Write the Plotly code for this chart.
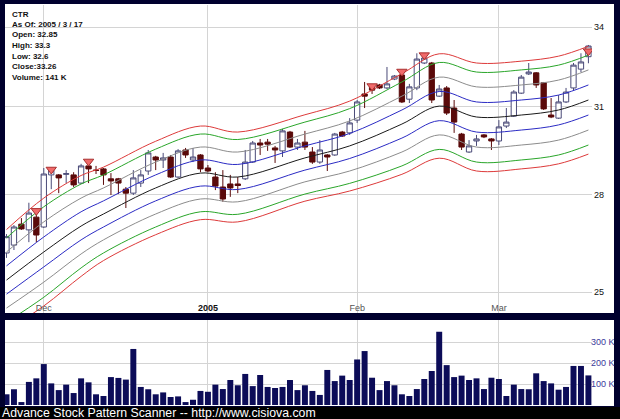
import plotly.graph_objects as go
import pandas as pd

# ---------------- data ----------------
holidays = ["2004-11-25", "2004-12-24", "2005-01-17", "2005-02-21"]
dates = [d.strftime("%Y-%m-%d") for d in pd.bdate_range("2004-11-23", "2005-03-17")
         if d.strftime("%Y-%m-%d") not in holidays]

opens = [26.16, 26.40, 27.05, 26.87, 27.27, 26.96, 28.64, 28.64, 28.66, 28.64,
         28.37, 28.94, 28.80, 28.84, 28.51, 28.51, 28.17, 28.04, 28.37, 28.77,
         29.24, 29.14, 29.24, 28.57, 29.48, 29.14, 29.31, 28.87, 28.57, 28.24,
         28.34, 28.34, 28.51, 29.07, 29.72, 29.75, 29.55, 29.45, 30.10, 29.58,
         29.75, 29.41, 29.07, 29.31, 29.31, 30.10, 30.07, 30.52, 31.46, 31.72,
         31.79, 31.68, 32.01, 32.16, 31.27, 31.68, 32.61, 32.61, 31.38, 31.68,
         30.95, 30.03, 29.41, 29.79, 30.00, 29.86, 29.79, 30.31, 30.66, 31.49,
         32.20, 32.24, 31.87, 30.70, 30.59, 31.17, 31.68, 32.38, 32.85]
highs = [26.74, 27.02, 27.24, 27.73, 27.40, 28.87, 28.87, 28.67, 28.80, 28.73,
         29.01, 29.07, 28.94, 28.87, 28.70, 28.54, 28.24, 28.80, 28.80, 29.48,
         29.28, 29.38, 29.31, 29.51, 29.55, 29.55, 29.34, 28.97, 28.73, 28.80,
         28.64, 28.57, 29.48, 29.79, 29.86, 29.86, 29.62, 30.21, 30.14, 29.86,
         30.14, 29.58, 29.82, 29.34, 30.07, 30.14, 30.59, 31.24, 31.90, 31.79,
         31.83, 32.46, 32.16, 32.27, 31.83, 32.98, 32.91, 32.65, 31.79, 31.75,
         31.24, 30.07, 29.82, 30.00, 30.03, 29.89, 30.52, 30.95, 31.60, 32.16,
         32.61, 32.27, 31.90, 31.31, 31.42, 31.68, 32.61, 32.98, 33.30]
lows = [26.01, 26.25, 26.87, 26.49, 26.49, 26.93, 28.17, 28.04, 28.37, 28.24,
        28.34, 28.37, 28.67, 28.31, 27.98, 28.01, 27.56, 27.98, 28.24, 28.64,
        28.80, 28.87, 28.54, 28.54, 29.21, 29.07, 28.73, 28.73, 28.14, 27.76,
        27.92, 28.04, 28.47, 29.04, 29.31, 29.45, 29.04, 29.24, 29.55, 29.48,
        29.48, 29.01, 29.01, 28.77, 29.28, 29.93, 30.00, 30.42, 30.95, 31.46,
        31.64, 31.64, 31.97, 31.13, 31.13, 31.60, 32.57, 31.13, 31.35, 30.70,
        30.07, 29.48, 29.38, 29.62, 29.89, 29.48, 29.65, 30.24, 30.63, 31.46,
        32.16, 31.68, 30.88, 30.59, 30.56, 31.13, 31.60, 32.27, 32.60]
closes = [26.66, 26.96, 26.90, 27.40, 26.71, 28.67, 28.80, 28.54, 28.68, 28.31,
          28.94, 28.84, 28.79, 28.64, 28.44, 28.37, 28.04, 28.54, 28.64, 29.38,
          29.14, 29.21, 28.57, 29.45, 29.31, 29.24, 28.84, 28.77, 28.27, 27.85,
          28.21, 28.29, 29.07, 29.72, 29.65, 29.68, 29.48, 30.14, 29.58, 29.72,
          29.58, 29.07, 29.48, 29.24, 30.03, 29.96, 30.42, 31.17, 31.38, 31.60,
          31.68, 31.83, 32.12, 31.17, 31.72, 32.76, 32.80, 31.24, 31.64, 30.77,
          30.45, 29.58, 29.62, 29.86, 29.93, 29.79, 30.28, 30.45, 31.53, 32.08,
          32.27, 31.79, 30.92, 30.63, 31.17, 31.53, 32.53, 32.65, 33.26]
volume_k = [51, 75, 14, 110, 127, 195, 103, 71, 97, 57,
            127, 108, 51, 43, 133, 129, 121, 267, 86, 75,
            51, 60, 38, 41, 14, 25, 67, 63, 97, 76,
            119, 94, 148, 90, 143, 86, 81, 86, 119, 71,
            94, 67, 48, 167, 114, 140, 119, 217, 257, 130,
            71, 114, 94, 51, 43, 76, 124, 162, 349, 190,
            133, 140, 119, 127, 76, 130, 124, 43, 97, 76,
            75, 151, 114, 103, 73, 86, 186, 186, 141]

# band lines read at these trading-day indices
band_idx = [0, 5, 10, 13, 20, 26, 31, 40, 46, 53, 58, 63, 69, 74, 78]
red_top = [26.88, 27.88, 28.62, 28.90, 29.78, 30.31, 30.10, 30.71, 31.20, 32.21, 32.96, 32.61, 32.68, 32.87, 33.25]
green_top = [26.62, 27.60, 28.34, 28.64, 29.51, 30.03, 29.84, 30.45, 30.93, 31.90, 32.63, 32.27, 32.35, 32.53, 32.91]
gray_top = [26.19, 27.12, 27.88, 28.21, 29.07, 29.58, 29.41, 30.03, 30.49, 31.38, 32.08, 31.72, 31.79, 31.97, 32.35]
blue_top = [25.77, 26.65, 27.44, 27.79, 28.64, 29.14, 28.99, 29.62, 30.05, 30.88, 31.55, 31.17, 31.24, 31.42, 31.79]
mid_line = [25.35, 26.19, 26.99, 27.37, 28.21, 28.70, 28.57, 29.21, 29.62, 30.38, 31.02, 30.63, 30.70, 30.88, 31.24]
blue_low = [24.94, 25.74, 26.56, 26.96, 27.79, 28.27, 28.16, 28.80, 29.19, 29.89, 30.50, 30.10, 30.17, 30.35, 30.70]
gray_low = [24.54, 25.29, 26.13, 26.56, 27.37, 27.85, 27.76, 28.41, 28.77, 29.41, 30.00, 29.58, 29.65, 29.82, 30.17]
green_low = [24.14, 24.85, 25.71, 26.16, 26.96, 27.44, 27.36, 28.01, 28.36, 28.94, 29.50, 29.07, 29.14, 29.31, 29.65]
red_low = [23.91, 24.60, 25.46, 25.93, 26.72, 27.19, 27.12, 27.78, 28.11, 28.66, 29.20, 28.77, 28.84, 29.01, 29.34]

signal_idx = [4, 6, 11, 49, 53, 56, 78]
signal_price = [27.47, 28.82, 29.09, 31.75, 32.29, 32.91, 33.06]

tick_idx = [5, 27, 47, 66]
tick_text = ["<span style='color:#555555'>Dec</span>", "<b>2005</b>",
             "<span style='color:#555555'>Feb</span>", "<span style='color:#555555'>Mar</span>"]
price_ticks = [25, 28, 31, 34]
vol_ticks_k = [100, 200, 300]

info_lines = ["CTR", "As Of: 2005 / 3 / 17", "Open: 32.85", "High: 33.3",
              "Low: 32.6", "Close:33.26", "Volume: 141 K"]
footer = "Advance Stock Pattern Scanner -- http://www.cisiova.com"

# ---------------- figure ----------------
W, H = 620, 419
FONT = "Liberation Sans, Arial, sans-serif"

fig = go.Figure()

band_x = [dates[i] for i in band_idx]
bands = [(red_top, "#dd3a3a"), (green_top, "#2aa62a"), (gray_top, "#8c8c8c"),
         (blue_top, "#2b2bc4"), (mid_line, "#1a1a1a"), (blue_low, "#2b2bc4"),
         (gray_low, "#8c8c8c"), (green_low, "#2aa62a"), (red_low, "#dd3a3a")]
for vals, col in bands:
    fig.add_trace(go.Scatter(x=band_x, y=vals, mode="lines",
                             line=dict(color=col, width=1, shape="spline", smoothing=1.0),
                             xaxis="x", yaxis="y", hoverinfo="skip"))

fig.add_trace(go.Candlestick(
    x=dates, open=opens, high=highs, low=lows, close=closes,
    increasing=dict(line=dict(color="#4a4a78", width=1), fillcolor="#ffffff"),
    decreasing=dict(line=dict(color="#5a0a0a", width=1), fillcolor="#5a0a0a"),
    whiskerwidth=0, xaxis="x", yaxis="y"))

fig.add_trace(go.Scatter(
    x=[dates[i] for i in signal_idx], y=signal_price, mode="markers",
    marker=dict(symbol="triangle-down", size=9, color="#f06a6a",
                line=dict(color="#a83030", width=1)),
    xaxis="x", yaxis="y", hoverinfo="skip"))

fig.add_trace(go.Bar(x=dates, y=[v * 1000 for v in volume_k], marker_color="#0c0c58",
                     marker_line_width=0, width=0.8, xaxis="x2", yaxis="y2"))

xdom = [5 / W, 592 / W]
shapes = [
    dict(type="rect", xref="paper", yref="paper", x0=5 / W, x1=614 / W,
         y0=(H - 313) / H, y1=(H - 4) / H, fillcolor="white", line_width=0, layer="below"),
    dict(type="rect", xref="paper", yref="paper", x0=5 / W, x1=614 / W,
         y0=(H - 406) / H, y1=(H - 320) / H, fillcolor="white", line_width=0, layer="below"),
    dict(type="rect", xref="paper", yref="paper", x0=0, x1=1,
         y0=0, y1=(H - 407) / H, fillcolor="black", line_width=0, layer="below"),
]

annotations = []
for k, t in enumerate(info_lines):
    yc = 14 + k * 10.5
    annotations.append(dict(text="<b>%s</b>" % t, xref="paper", yref="paper",
                            x=10 / W, y=(H - yc) / H, xanchor="left", yanchor="middle",
                            showarrow=False, font=dict(family=FONT, size=8, color="#111111")))
annotations.append(dict(text=footer, xref="paper", yref="paper", x=1 / W, y=(H - 413) / H,
                        xanchor="left", yanchor="middle", showarrow=False, borderpad=0,
                        font=dict(family=FONT, size=12.3, color="white")))

cat_ax = dict(type="category", categoryorder="array", categoryarray=dates,
              domain=xdom, range=[-0.2, 78.48], showgrid=True, gridcolor="#d4d4d4",
              gridwidth=1, tickvals=[dates[i] for i in tick_idx], ticks="",
              showline=False, zeroline=False)

fig.update_layout(
    width=W, height=H, margin=dict(l=0, r=0, t=0, b=0),
    paper_bgcolor="#00002e", plot_bgcolor="white",
    showlegend=False, hovermode=False, boxgap=0.29, boxgroupgap=0, bargap=0.2,
    shapes=shapes, annotations=annotations,
    font=dict(family=FONT, size=9, color="#111111"),
    xaxis=dict(cat_ax, anchor="y", rangeslider=dict(visible=False), ticktext=tick_text,
               ticklabelposition="inside", ticklabelstandoff=-3,
               tickfont=dict(size=9, color="#111111", family=FONT)),
    yaxis=dict(type="log", domain=[(H - 313) / H, (H - 5) / H], anchor="x", side="right",
               range=[1.38739, 1.54258], tickvals=price_ticks,
               ticktext=[str(v) for v in price_ticks], showgrid=True, gridcolor="#d4d4d4",
               ticks="", showline=False, zeroline=False, ticklabelstandoff=1,
               tickfont=dict(size=9, color="#111111", family=FONT)),
    xaxis2=dict(cat_ax, anchor="y2", matches="x", showticklabels=False),
    yaxis2=dict(domain=[(H - 405) / H, (H - 320) / H], anchor="x2", side="right",
                range=[0, 405000], tickvals=[v * 1000 for v in vol_ticks_k],
                ticktext=["%d K" % v for v in vol_ticks_k], showgrid=True, gridcolor="#d4d4d4",
                ticks="", showline=False, zeroline=False, ticklabelstandoff=-2,
                tickfont=dict(size=9, color="#3a3a9a", family=FONT)),
)

fig.write_html("out.html", config={"displayModeBar": False},
               post_script="document.body.style.margin='0';document.body.style.padding='0';"
                           "document.body.style.overflow='hidden';")
